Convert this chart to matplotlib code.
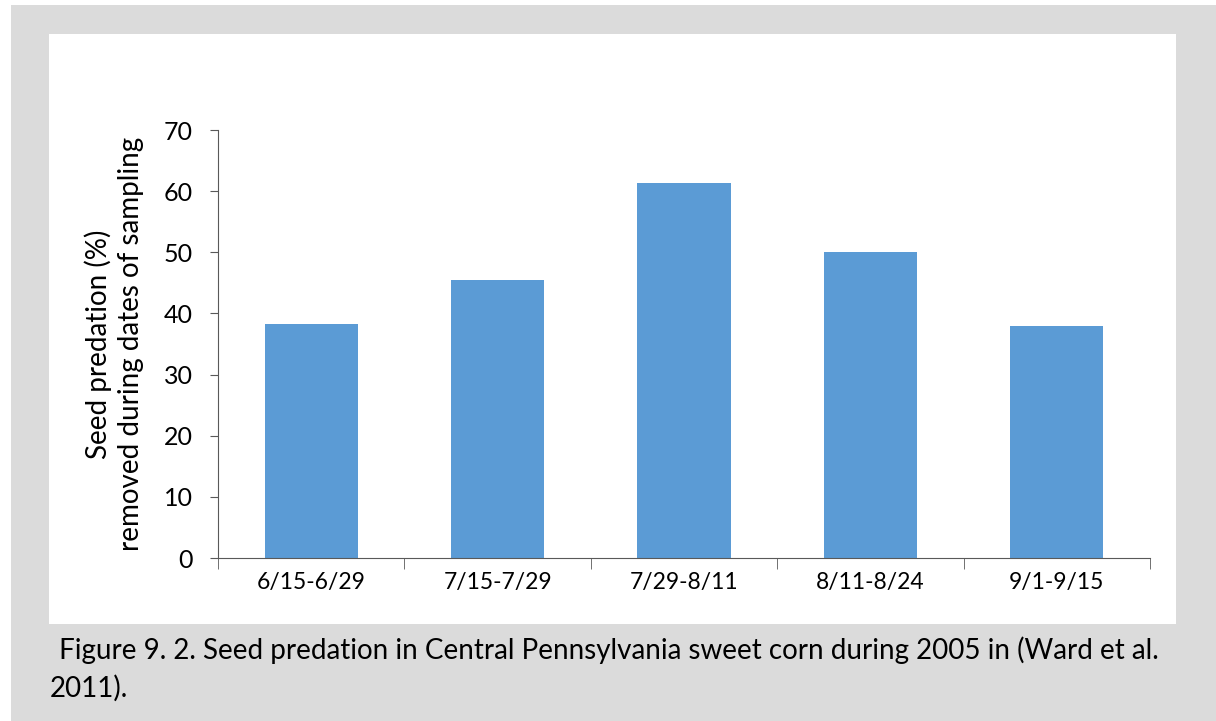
import matplotlib.pyplot as plt
from matplotlib.patches import Rectangle

periods = ["6/15-6/29", "7/15-7/29", "7/29-8/11", "8/11-8/24", "9/1-9/15"]
predation = [38.2, 45.4, 61.3, 50.1, 38.0]

W, H = 1216, 721
plt.rcParams['font.family'] = ['Lato', 'DejaVu Sans']

fig = plt.figure(figsize=(W / 100, H / 100), dpi=100)

# grey frame + white panel behind the chart
fig.patches.append(Rectangle((11 / W, 0), 1 - 11 / W, 1 - 5 / H, transform=fig.transFigure,
                             facecolor="#dbdbdb", edgecolor="none", zorder=-2))
fig.patches.append(Rectangle((49 / W, 1 - 624 / H), (1176 - 49) / W, (624 - 34) / H,
                             transform=fig.transFigure, facecolor="white", edgecolor="none", zorder=-1))

ax = fig.add_axes([218 / W, 1 - 558 / H, (1150 - 218) / W, (558 - 130) / H])
ax.patch.set_alpha(0)

x = range(len(periods))
ax.bar(x, predation, width=0.5, color="#5b9bd5")

ax.set_xlim(-0.5, len(periods) - 0.5)
ax.set_ylim(0, 70)
ax.set_yticks(range(0, 71, 10))
ax.set_xticks(x)
ax.set_xticklabels(periods, fontsize=16.5)
ax.set_xticks([i - 0.5 for i in range(len(periods) + 1)], minor=True)
ax.tick_params(axis="x", which="major", length=0, pad=10)
ax.tick_params(axis="x", which="minor", length=8, color="#595959")
ax.tick_params(axis="y", labelsize=18, length=6, color="#595959", pad=12)

for s in ["top", "right"]:
    ax.spines[s].set_visible(False)
ax.spines["left"].set_color("#595959")
ax.spines["bottom"].set_color("#595959")

ax.set_ylabel("Seed predation (%)\nremoved during dates of sampling", fontsize=20, labelpad=14,
              linespacing=1.3)

fig.text(52 / W, 1 - 650 / H, " Figure 9. 2. Seed predation in Central Pennsylvania sweet corn during 2005 in (Ward et al.",
         fontsize=20, va="center", ha="left")
fig.text(50 / W, 1 - 688 / H, "2011).", fontsize=20, va="center", ha="left")

fig.savefig("out.png", dpi=100)
